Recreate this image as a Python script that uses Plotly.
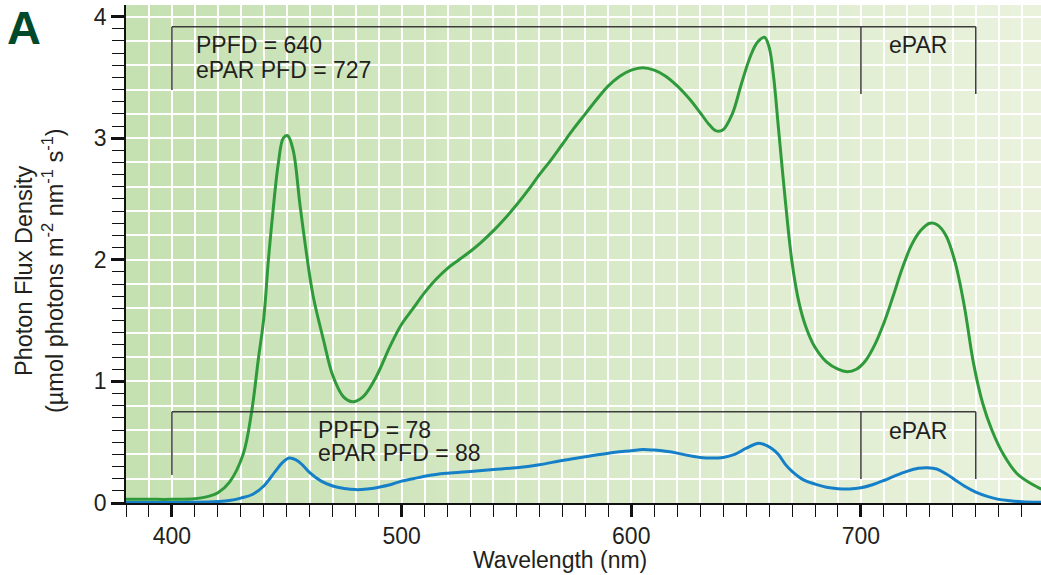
import plotly.graph_objects as go

# ---------------- data ----------------
wavelength_high = [380, 390, 400, 410, 415, 420, 425, 431, 434.7, 437.6, 440, 442, 444,
                   446.3, 448.5, 450.4, 452.8, 455.7, 458.6, 461.5, 466, 470, 474.6,
                   478.7, 483.3, 489, 495, 500, 505, 510, 515, 520, 525, 530, 535, 540,
                   545, 550, 555, 560, 565, 570, 575, 580, 585, 590, 595, 600, 605, 610,
                   615, 620, 625, 630, 634, 637, 640, 644, 648, 652, 655, 658, 660, 662,
                   664, 667, 670, 673, 676, 680, 685, 690, 694, 698, 702, 706, 710, 714,
                   718, 722, 726, 730, 733, 737, 741, 745, 749, 753, 757, 762, 768, 774, 779]
flux_high = [0.03, 0.03, 0.03, 0.035, 0.05, 0.085, 0.17, 0.40, 0.75, 1.18, 1.52, 2.0, 2.4,
             2.79, 3.0, 3.02, 2.9, 2.46, 2.05, 1.70, 1.34, 1.05, 0.875,
             0.833, 0.875, 1.04, 1.29, 1.47, 1.6, 1.73, 1.84, 1.93, 2.0, 2.07, 2.15, 2.24,
             2.34, 2.45, 2.57, 2.7, 2.82, 2.95, 3.08, 3.2, 3.32, 3.43, 3.51, 3.56, 3.58, 3.56,
             3.51, 3.43, 3.33, 3.21, 3.11, 3.06, 3.07, 3.2, 3.45, 3.68, 3.79, 3.83, 3.75, 3.5,
             3.1, 2.5, 1.98, 1.65, 1.45, 1.28, 1.16, 1.1, 1.08, 1.1, 1.17, 1.3, 1.48, 1.7,
             1.93, 2.12, 2.24, 2.3, 2.29, 2.2, 1.98, 1.62, 1.15, 0.82, 0.6, 0.4, 0.24, 0.16, 0.11]

wavelength_low = [380, 390, 400, 410, 420, 425, 430, 435, 440, 445, 448, 451, 454, 457,
                  460, 465, 470, 475, 480, 485, 490, 495, 500, 505, 510, 515, 520, 530,
                  540, 550, 560, 570, 580, 590, 600, 605, 610, 615, 620, 625, 630, 635,
                  640, 645, 650, 655, 658, 661, 664, 667, 670, 675, 680, 685, 690, 695,
                  700, 705, 710, 715, 720, 725, 729, 733, 737, 741, 745, 750, 755, 760,
                  765, 770, 779]
flux_low = [0.005, 0.005, 0.005, 0.006, 0.012, 0.02, 0.04, 0.07, 0.14, 0.26, 0.33, 0.37,
            0.355, 0.31, 0.25, 0.18, 0.14, 0.12, 0.11, 0.115, 0.13, 0.15, 0.18, 0.2, 0.22,
            0.235, 0.245, 0.26, 0.275, 0.29, 0.315, 0.35, 0.38, 0.41, 0.43, 0.44, 0.435,
            0.425, 0.41, 0.39, 0.375, 0.37, 0.375, 0.40, 0.45, 0.49, 0.48, 0.45, 0.4, 0.32,
            0.26, 0.19, 0.155, 0.13, 0.118, 0.115, 0.125, 0.15, 0.185, 0.225, 0.26, 0.285,
            0.29, 0.28, 0.24, 0.19, 0.14, 0.09, 0.055, 0.03, 0.018, 0.01, 0.005]

x_range = [380, 778.4]
y_range = [0, 4.095]
x_major_ticks = [400, 500, 600, 700]
y_major_ticks = [0, 1, 2, 3, 4]

# bracket annotations: band edges (nm) and their levels
bracket_edges = [400, 700, 750]
high_bracket_top = 3.917
high_bracket_feet = [3.397, 3.363, 3.363]
low_bracket_top = 0.751
low_bracket_feet = [0.23, 0.197, 0.197]

high_labels = ["PPFD = 640", "ePAR PFD = 727"]
low_labels = ["PPFD = 78", "ePAR PFD = 88"]
high_label_pos = [409.6, 3.764, 3.561]
low_label_pos = [462.7, 0.604, 0.411]
epar_label = "ePAR"
epar_x = 724.7
epar_levels = [3.763, 0.596]

y_title_lines = ["Photon Flux Density",
                 "(µmol photons m<sup>-2</sup> nm<sup>-1</sup> s<sup>-1</sup>)"]
x_title = "Wavelength (nm)"

# ---------------- styling ----------------
FONT = "Liberation Sans, Arial, Helvetica, sans-serif"
TXT = "#231f20"
GREEN = "#2f9a3b"
BLUE = "#1580c8"
BRK = "#3c3c3c"
W, H = 1041, 575
ML, MR, MT, MB = 126, 0, 5, 72
PW, PH = W - ML - MR, H - MT - MB

fig = go.Figure()

fig.add_trace(go.Scatter(x=wavelength_high, y=flux_high, mode="lines",
                         line=dict(color=GREEN, width=3, shape="spline", smoothing=1.0),
                         hoverinfo="skip", showlegend=False))
fig.add_trace(go.Scatter(x=wavelength_low, y=flux_low, mode="lines",
                         line=dict(color=BLUE, width=3, shape="spline", smoothing=1.0),
                         hoverinfo="skip", showlegend=False))
# invisible trace to carry the minor-tick axis
fig.add_trace(go.Scatter(x=[x_range[0]], y=[0], yaxis="y2", mode="markers",
                         marker=dict(opacity=0), hoverinfo="skip", showlegend=False))

shapes = []
# background gradient (left darker green -> right pale green), below gridlines
c0 = (197, 224, 177)
c1 = (234, 242, 221)
N = 160
for i in range(N):
    t = i / (N - 1)
    col = tuple(round(a + (b - a) * t) for a, b in zip(c0, c1))
    shapes.append(dict(type="rect", xref="paper", yref="paper", x0=i / N, x1=1,
                       y0=0, y1=1, layer="below", line=dict(width=0),
                       fillcolor="rgb(%d,%d,%d)" % col))

# brackets
for top, feet in [(high_bracket_top, high_bracket_feet), (low_bracket_top, low_bracket_feet)]:
    shapes.append(dict(type="line", xref="x", yref="y", x0=bracket_edges[0], x1=bracket_edges[-1],
                       y0=top, y1=top, line=dict(color=BRK, width=1.5), layer="above"))
    for xe, yf in zip(bracket_edges, feet):
        shapes.append(dict(type="line", xref="x", yref="y", x0=xe, x1=xe, y0=top, y1=yf,
                           line=dict(color=BRK, width=1.5), layer="above"))

annotations = []
for labels, pos in [(high_labels, high_label_pos), (low_labels, low_label_pos)]:
    for txt, yv in zip(labels, pos[1:]):
        annotations.append(dict(x=pos[0], y=yv, xref="x", yref="y", text=txt, showarrow=False,
                                xanchor="left", yanchor="middle",
                                font=dict(family=FONT, size=23, color=TXT)))
for yv in epar_levels:
    annotations.append(dict(x=epar_x, y=yv, xref="x", yref="y", text=epar_label, showarrow=False,
                            xanchor="center", yanchor="middle",
                            font=dict(family=FONT, size=23, color=TXT)))

# panel letter
annotations.append(dict(x=(24 - ML) / PW, y=(H - MB - 27.5) / PH, xref="paper", yref="paper",
                        text="<b>A</b>", showarrow=False, xanchor="center", yanchor="middle",
                        font=dict(family=FONT, size=47, color="#00492a")))
# axis titles as annotations
for txt, px in zip(y_title_lines, [24, 53]):
    annotations.append(dict(x=(px - ML) / PW, y=(H - MB - 271) / PH, xref="paper", yref="paper",
                            text=txt, textangle=-90, showarrow=False,
                            xanchor="center", yanchor="middle",
                            font=dict(family=FONT, size=23.5, color=TXT)))
annotations.append(dict(x=(559.6 - ML) / PW, y=-(559.5 - (H - MB)) / PH, xref="paper", yref="paper",
                        text=x_title, showarrow=False, xanchor="center", yanchor="middle",
                        font=dict(family=FONT, size=23, color=TXT)))

fig.update_layout(
    width=W, height=H,
    margin=dict(l=ML, r=MR, t=MT, b=MB, autoexpand=False),
    paper_bgcolor="white",
    plot_bgcolor="rgb(215,232,198)",
    shapes=shapes,
    annotations=annotations,
    font=dict(family=FONT, size=23, color=TXT),
    xaxis=dict(range=x_range, tickvals=x_major_ticks, ticks="outside", ticklen=12, tickwidth=2.5,
               tickcolor="#111", showline=True, linecolor="#111", linewidth=1.5,
               showgrid=True, gridcolor="white", gridwidth=2, zeroline=False,
               tickfont=dict(family=FONT, size=23, color=TXT),
               minor=dict(dtick=10, tick0=0, ticks="outside", ticklen=12, tickwidth=1,
                          tickcolor="#111", showgrid=True, gridcolor="white", gridwidth=2)),
    yaxis=dict(range=y_range, tickvals=y_major_ticks, ticks="outside", ticklen=13, tickwidth=3,
               tickcolor="#111", showline=True, linecolor="#111", linewidth=1.5,
               showgrid=True, gridcolor="white", gridwidth=2, zeroline=False,
               tickfont=dict(family=FONT, size=23, color=TXT),
               minor=dict(dtick=0.2, tick0=0, ticks="", showgrid=True, gridcolor="white",
                          gridwidth=2)),
    yaxis2=dict(range=y_range, overlaying="y", anchor="x", side="left", tick0=0, dtick=0.1,
                ticks="outside", ticklen=13, tickwidth=1, tickcolor="#111",
                showticklabels=False, showgrid=False, zeroline=False, showline=False),
)

fig.write_html("out.html", config={"displayModeBar": False},
               post_script="document.body.style.margin='0px';document.body.style.padding='0px';")
